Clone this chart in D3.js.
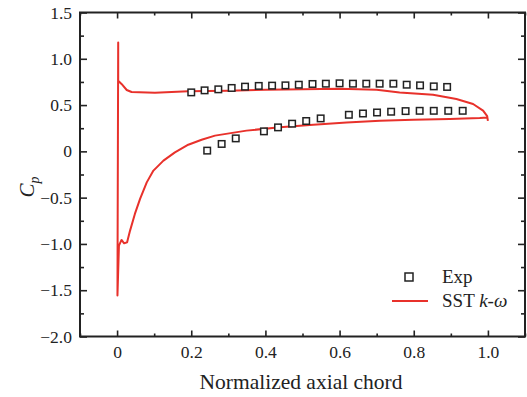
<!DOCTYPE html>
<html>
<head>
<meta charset="utf-8">
<script src="https://cdn.jsdelivr.net/npm/d3@7"></script>
<style>
  body { margin: 0; background: #fff; }
  svg text { font-family: "Liberation Serif", "Times New Roman", serif; fill: #222; }
</style>
</head>
<body>
<svg id="chart" width="527" height="397"></svg>
<script>
// experimental data (pressure side / suction side)
var expUpperX = [0.200, 0.236, 0.273, 0.309, 0.345, 0.382, 0.418, 0.454, 0.490, 0.527,
                 0.563, 0.600, 0.636, 0.672, 0.708, 0.745, 0.781, 0.817, 0.854, 0.890];
var expUpperY = [0.637, 0.659, 0.670, 0.685, 0.699, 0.707, 0.710, 0.713, 0.720, 0.728,
                 0.731, 0.735, 0.731, 0.731, 0.731, 0.731, 0.720, 0.713, 0.702, 0.696];
var expLowerX = [0.243, 0.282, 0.320, 0.396, 0.434, 0.472, 0.510, 0.549, 0.625, 0.663,
                 0.701, 0.739, 0.778, 0.816, 0.854, 0.893, 0.932];
var expLowerY = [0.008, 0.080, 0.140, 0.216, 0.259, 0.299, 0.328, 0.356, 0.395, 0.409,
                 0.420, 0.428, 0.435, 0.438, 0.438, 0.438, 0.438];

// SST k-omega prediction, traced from trailing edge along suction side, round LE, back along pressure side
var sstX = [1.000, 0.978, 0.897, 0.798, 0.709, 0.619, 0.529, 0.439, 0.349, 0.264, 0.228, 0.192,
            0.156, 0.125, 0.098, 0.080, 0.062, 0.048, 0.035, 0.027, 0.019, 0.012, 0.005, 0.001,
            0.003, 0.003, 0.012, 0.026, 0.039, 0.102, 0.192, 0.300, 0.400, 0.500, 0.600, 0.700,
            0.762, 0.852, 0.915, 0.960, 0.987, 0.998, 1.000];
var sstY = [0.367, 0.360, 0.350, 0.342, 0.331, 0.313, 0.288, 0.260, 0.224, 0.170, 0.126, 0.072,
            -0.011, -0.100, -0.208, -0.335, -0.514, -0.676, -0.856, -0.983, -0.993, -0.957, -1.018, -1.558,
            1.177, 0.763, 0.728, 0.663, 0.641, 0.634, 0.648, 0.655, 0.665, 0.672, 0.675, 0.665,
            0.637, 0.612, 0.566, 0.512, 0.440, 0.380, 0.330];

var xTicks = [0, 0.2, 0.4, 0.6, 0.8, 1.0];
var xMinor = [-0.1, 0.1, 0.3, 0.5, 0.7, 0.9, 1.1];
var yTicks = [-2.0, -1.5, -1.0, -0.5, 0, 0.5, 1.0, 1.5];
var yMinor = [-1.75, -1.25, -0.75, -0.25, 0.25, 0.75, 1.25];

var svg = d3.select('#chart');
var mLeft = 80, mRight = 525, mTop = 12.5, mBottom = 336.5;

var x = d3.scaleLinear().domain([-0.1, 1.1]).range([mLeft, mRight]);
var y = d3.scaleLinear().domain([-2.0, 1.5]).range([mBottom, mTop]);

var fmt = function(d) { return d === 0 ? '0' : d3.format('.1f')(d); };

function styleAxis(g) {
    g.selectAll('.domain').remove();
    g.selectAll('line').attr('stroke', '#222').attr('stroke-width', 1.6);
    g.selectAll('text').attr('font-size', 17.5).attr('fill', '#222');
}

// bottom
svg.append('g').attr('transform', 'translate(0,' + mBottom + ')')
    .call(d3.axisBottom(x).tickValues(xTicks).tickSize(-6).tickPadding(9).tickFormat(fmt))
    .call(styleAxis);
svg.append('g').attr('transform', 'translate(0,' + mBottom + ')')
    .call(d3.axisBottom(x).tickValues(xMinor).tickSize(-3).tickFormat(''))
    .call(styleAxis);
// top
svg.append('g').attr('transform', 'translate(0,' + mTop + ')')
    .call(d3.axisTop(x).tickValues(xTicks).tickSize(-6).tickFormat(''))
    .call(styleAxis);
svg.append('g').attr('transform', 'translate(0,' + mTop + ')')
    .call(d3.axisTop(x).tickValues(xMinor).tickSize(-3).tickFormat(''))
    .call(styleAxis);
// left
svg.append('g').attr('transform', 'translate(' + mLeft + ',0)')
    .call(d3.axisLeft(y).tickValues(yTicks).tickSize(-7).tickPadding(8).tickFormat(fmt))
    .call(styleAxis);
svg.append('g').attr('transform', 'translate(' + mLeft + ',0)')
    .call(d3.axisLeft(y).tickValues(yMinor).tickSize(-4).tickFormat(''))
    .call(styleAxis);
// right
svg.append('g').attr('transform', 'translate(' + mRight + ',0)')
    .call(d3.axisRight(y).tickValues(yTicks).tickSize(-7).tickFormat(''))
    .call(styleAxis);
svg.append('g').attr('transform', 'translate(' + mRight + ',0)')
    .call(d3.axisRight(y).tickValues(yMinor).tickSize(-4).tickFormat(''))
    .call(styleAxis);

// frame
svg.append('rect')
    .attr('x', mLeft).attr('y', mTop)
    .attr('width', mRight - mLeft).attr('height', mBottom - mTop)
    .attr('fill', 'none').attr('stroke', '#222').attr('stroke-width', 2);

// SST curve
var sst = sstX.map(function(d, i) { return [d, sstY[i]]; });
var line = d3.line().x(function(d) { return x(d[0]); }).y(function(d) { return y(d[1]); });
svg.append('path').datum(sst)
    .attr('d', line)
    .attr('fill', 'none')
    .attr('stroke', '#e8312b')
    .attr('stroke-width', 2)
    .attr('stroke-linejoin', 'round');

// experimental squares
var exp = expUpperX.map(function(d, i) { return [d, expUpperY[i]]; })
    .concat(expLowerX.map(function(d, i) { return [d, expLowerY[i]]; }));
var sq = 6.5;
svg.append('g').selectAll('rect')
    .data(exp).enter().append('rect')
    .attr('x', function(d) { return x(d[0]) - sq / 2; })
    .attr('y', function(d) { return y(d[1]) - sq / 2; })
    .attr('width', sq).attr('height', sq)
    .attr('fill', '#fff').attr('stroke', '#222').attr('stroke-width', 1.5);

// legend
var lg = svg.append('g');
lg.append('rect').attr('x', 405).attr('y', 273).attr('width', 8).attr('height', 8)
    .attr('fill', '#fff').attr('stroke', '#222').attr('stroke-width', 1.5);
lg.append('text').attr('x', 442).attr('y', 283).attr('font-size', 19).text('Exp');
lg.append('line').attr('x1', 392).attr('x2', 428).attr('y1', 301).attr('y2', 301)
    .attr('stroke', '#e8312b').attr('stroke-width', 2);
var t2 = lg.append('text').attr('x', 442).attr('y', 307).attr('font-size', 19);
t2.append('tspan').text('SST ');
t2.append('tspan').attr('font-style', 'italic').text('k');
t2.append('tspan').text('-');
t2.append('tspan').attr('font-style', 'italic').text('ω');

// axis titles
svg.append('text').attr('x', 301).attr('y', 389)
    .attr('text-anchor', 'middle').attr('font-size', 21.5)
    .text('Normalized axial chord');

var yl = svg.append('text')
    .attr('transform', 'translate(34,187) rotate(-90)')
    .attr('text-anchor', 'middle').attr('font-size', 21);
yl.append('tspan').attr('font-style', 'italic').text('C');
yl.append('tspan').attr('font-style', 'italic').attr('font-size', 14).attr('dy', 5).text('p');
</script>
</body>
</html>
